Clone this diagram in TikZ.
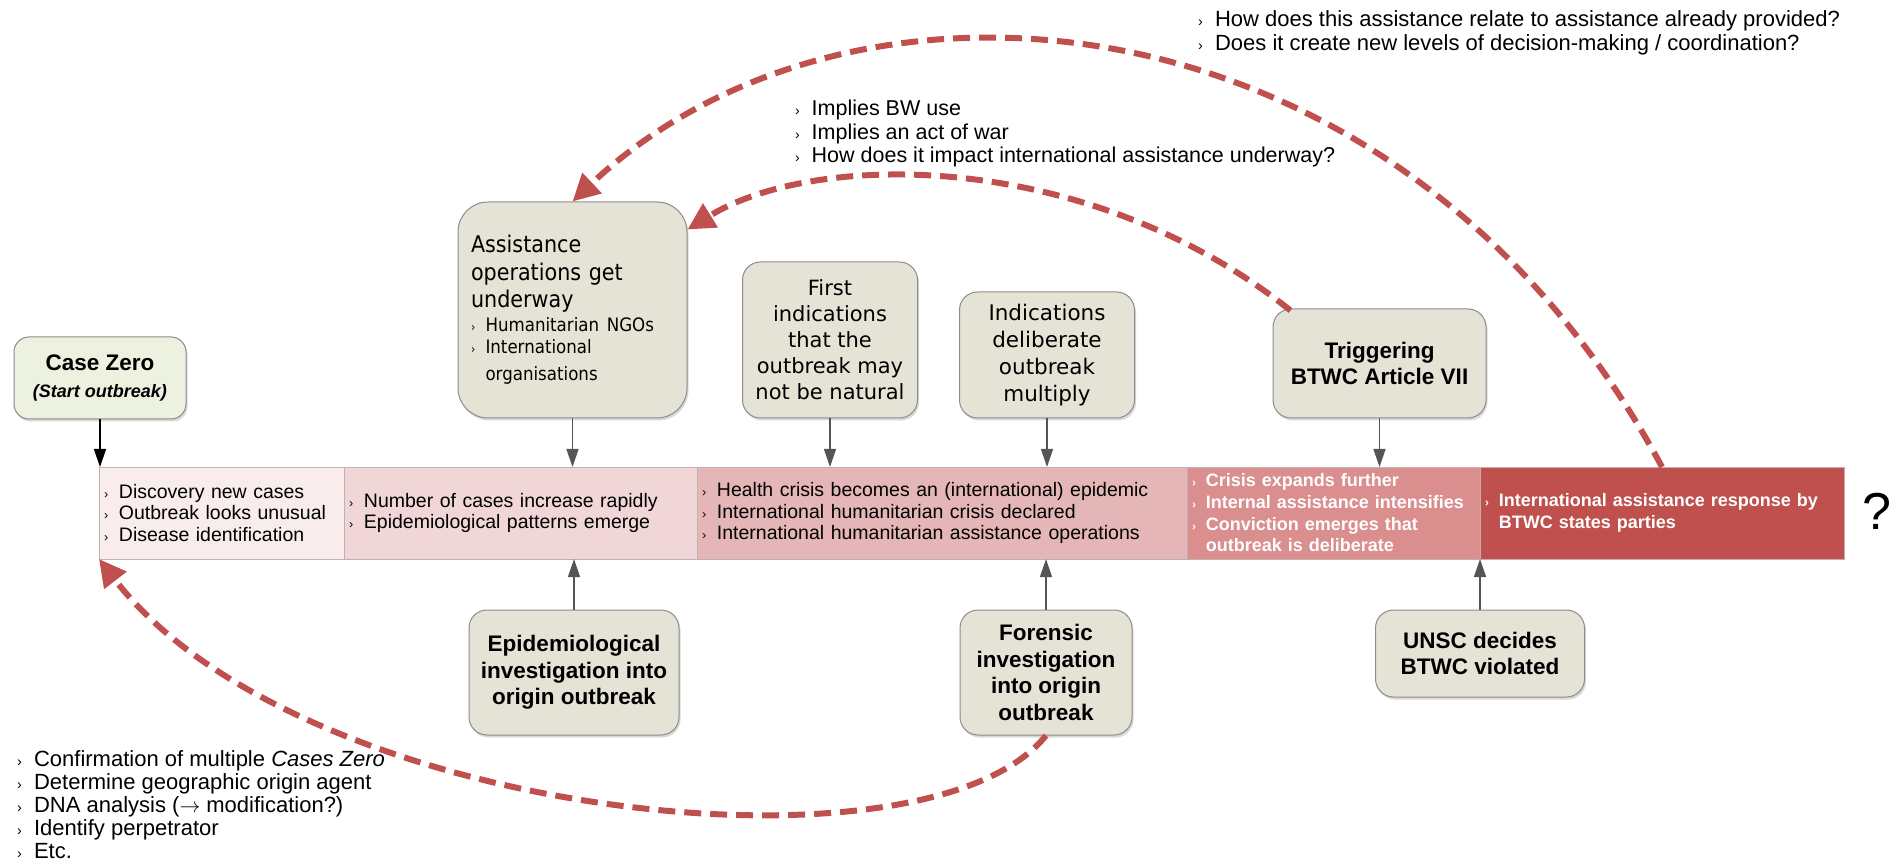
\documentclass[tikz,border=0pt]{standalone}
\usepackage{fontspec}
\setmainfont{Liberation Sans}
\newfontfamily\verdana{DejaVu Sans}
\newfontfamily\tahoma[FakeStretch=0.9]{DejaVu Sans}
\usepackage{graphicx}
\usepackage{tikz}
\usetikzlibrary{arrows.meta, calc, positioning, shadows}
\definecolor{boxfill}{RGB}{229,227,213}
\definecolor{zerofill}{RGB}{236,241,224}
\definecolor{boxline}{RGB}{140,140,140}
\definecolor{segline}{RGB}{195,175,175}
\definecolor{segA}{RGB}{248,236,236}
\definecolor{segB}{RGB}{240,214,214}
\definecolor{segC}{RGB}{229,182,183}
\definecolor{segD}{RGB}{218,142,142}
\definecolor{segE}{RGB}{192,80,77}
\definecolor{dashred}{RGB}{192,80,77}
\definecolor{arrowgray}{RGB}{85,85,85}
\newcommand{\sizept}[2]{\fontsize{#1}{#2}\selectfont}
\newcommand{\bul}{\scalebox{0.65}{›}\hspace{0.55em}}
\newcommand{\bulsp}{\hphantom{\bul}}
\tikzstyle{event} = [rectangle, rounded corners=18pt, draw=boxline, fill=boxfill, line width=1pt, align=center, inner sep=4pt, drop shadow={opacity=0.3, shadow xshift=1.5pt, shadow yshift=-2.5pt}, font=\bfseries\sizept{22.5}{26.5}]
\tikzstyle{phase} = [rectangle, draw=segline, line width=0.8pt, minimum height=92pt, inner xsep=5pt, outer sep=0pt, align=left, font=\sizept{19.5}{21.5}]
\tikzstyle{darkphase} = [phase, text=white, font=\bfseries\sizept{18}{21.7}]
\tikzstyle{arrow} = [line width=1.3pt, draw=arrowgray, -{Triangle[length=18pt, width=12pt]}]
\tikzstyle{feedback} = [draw=dashred, line width=6pt, dash pattern=on 17pt off 9pt, -{Triangle[length=27pt, width=27pt]}]
\tikzstyle{note} = [anchor=north west, align=left, inner sep=0pt]
\begin{document}
\begin{tikzpicture}[x=1pt, y=-1pt]
	\useasboundingbox (0,0) rectangle (1899,866);
	\node (PhaseDiscovery) [phase, fill=segA, anchor=north west, minimum width=245pt, text width=235pt] at (99,467) {\bul Discovery new cases\\ \bul Outbreak looks unusual\\ \bul Disease identification};
	\node (PhaseIncrease) [phase, fill=segB, right=0pt of PhaseDiscovery, minimum width=353pt, text width=343pt] {\bul Number of cases increase rapidly\\ \bul Epidemiological patterns emerge};
	\node (PhaseEpidemic) [phase, fill=segC, right=0pt of PhaseIncrease, minimum width=490pt, text width=480pt] {\bul Health crisis becomes an (international) epidemic\\ \bul International humanitarian crisis declared\\ \bul International humanitarian assistance operations};
	\node (PhaseExpansion) [darkphase, fill=segD, right=0pt of PhaseEpidemic, minimum width=293pt, text width=283pt] {\bul Crisis expands further\\ \bul Internal assistance intensifies\\ \bul Conviction emerges that\\ \bulsp outbreak is deliberate};
	\node (PhaseResponse) [darkphase, fill=segE, right=0pt of PhaseExpansion, minimum width=364pt, text width=354pt] {\bul International assistance response by\\ \bulsp BTWC states parties};
	\node (Unknown) at (1877,511) {\sizept{52}{52}?};
	\node (CaseZero) [event, fill=zerofill, rounded corners=15pt, minimum width=172pt, minimum height=82pt] at (100,378) {Case Zero\\ \itshape\sizept{18}{24}(Start outbreak)};
	\node (Assistance) [event, rounded corners=30pt, align=left, minimum width=229pt, minimum height=216pt, text width=203pt, font=\tahoma\sizept{23}{27.5}] at (572.5,310) {Assistance\\ operations get\\ underway\par\vspace{2pt} \sizept{18.5}{21.6}\bul Humanitarian NGOs\\ \bul International\\ \bulsp organisations};
	\node (FirstIndications) [event, font=\verdana\sizept{21}{26}, minimum width=175pt, minimum height=156pt] at (830,340) {First\\ indications\\ that the\\ outbreak may\\ not be natural};
	\node (Multiply) [event, font=\verdana\sizept{21.5}{27}, minimum width=175pt, minimum height=126pt] at (1047,355) {Indications\\ deliberate\\ outbreak\\ multiply};
	\node (Triggering) [event, minimum width=213pt, minimum height=109pt] at (1379.5,363.5) {Triggering\\ BTWC Article VII};
	\node (EpiInvestigation) [event, minimum width=210pt, minimum height=125pt] at (574,672.5) {Epidemiological\\ investigation into\\ origin outbreak};
	\node (ForensicInvestigation) [event, minimum width=172pt, minimum height=125pt] at (1046,672.5) {Forensic\\ investigation\\ into origin\\ outbreak};
	\node (UnscDecision) [event, minimum width=209pt, minimum height=87pt] at (1480,653.5) {UNSC decides\\ BTWC violated};
	\node (NotesTop) [note, font=\sizept{22}{24}] at (1198,10) {\bul How does this assistance relate to assistance already provided?\\ \bul Does it create new levels of decision-making / coordination?};
	\node (NotesMiddle) [note, font=\sizept{21.5}{23.5}] at (795,100) {\bul Implies BW use\\ \bul Implies an act of war\\ \bul How does it impact international assistance underway?};
	\node (NotesBottom) [note, font=\sizept{22}{23}] at (17,750) {\bul Confirmation of multiple \textit{Cases Zero}\\ \bul Determine geographic origin agent\\ \bul DNA analysis ($\rightarrow$ modification?)\\ \bul Identify perpetrator\\ \bul Etc.};
	\draw [arrow, draw=black] (CaseZero) -- (CaseZero |- PhaseDiscovery.north);
	\draw [arrow] (Assistance) -- (Assistance |- PhaseIncrease.north);
	\draw [arrow] (FirstIndications) -- (FirstIndications |- PhaseEpidemic.north);
	\draw [arrow] (Multiply) -- (Multiply |- PhaseEpidemic.north);
	\draw [arrow] (Triggering) -- (Triggering |- PhaseExpansion.north);
	\draw [arrow] (EpiInvestigation) -- (EpiInvestigation |- PhaseIncrease.south);
	\draw [arrow] (ForensicInvestigation) -- (ForensicInvestigation |- PhaseEpidemic.south);
	\draw [arrow] (UnscDecision) -- (UnscDecision |- PhaseResponse.south);
	\draw [feedback] (ForensicInvestigation.south) .. controls +(-120,150) and +(200,260) .. (PhaseDiscovery.south west);
	\draw [feedback] ($(Triggering.north west)+(18,2)$) .. controls +(-200,-160) and +(130,-80) .. ($(Assistance.north east)+(0,28)$);
	\draw [feedback] (PhaseResponse.north) .. controls +(-262,-487) and +(278,-262) .. (Assistance.north);
\end{tikzpicture}
\end{document}
